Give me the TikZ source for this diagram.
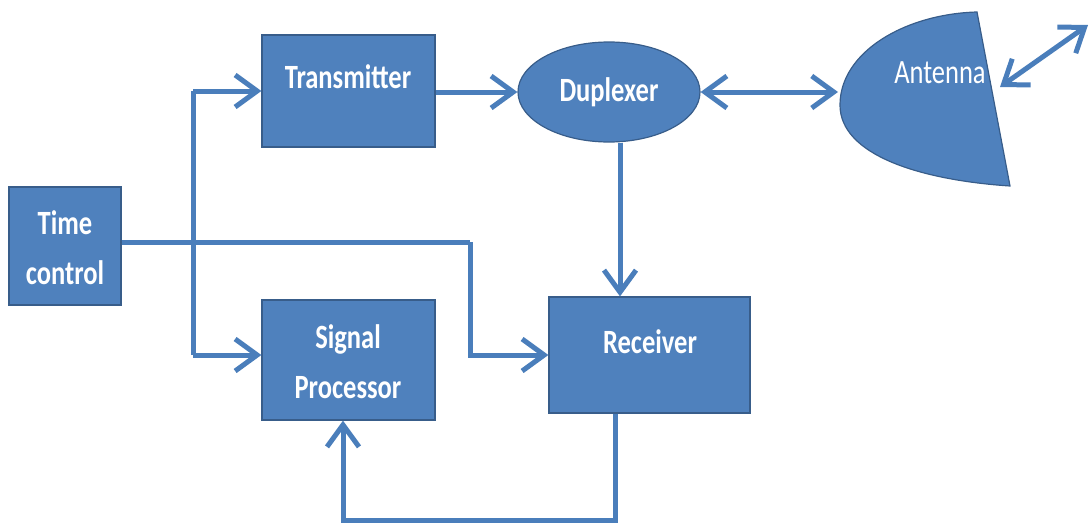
\documentclass[tikz,border=0pt]{standalone}
\usepackage{fontspec}
\usetikzlibrary{arrows.meta,shapes.geometric}
\newfontfamily\lblfont[FakeStretch=0.78]{Carlito}
\definecolor{blockfill}{HTML}{4F81BD}
\definecolor{blockedge}{HTML}{385D8A}
\definecolor{wire}{HTML}{4A7EBB}
\tikzset{
  block/.style={draw=blockedge, fill=blockfill, line width=1.2pt, inner sep=0pt},
  lbl/.style={text=white, font=\lblfont\bfseries\fontsize{34}{50}\selectfont, align=center, inner sep=0pt},
  conn/.style={draw=wire, line width=5pt, line join=miter,
    arrows={-Straight Barb[length=22pt,width=32pt]}},
  biconn/.style={conn, arrows={Straight Barb[length=22pt,width=32pt]-Straight Barb[length=22pt,width=32pt]}}
}
\begin{document}
\begin{tikzpicture}[x=1pt,y=-1pt]
\useasboundingbox (0,0) rectangle (1090,525);

% blocks
\node[block, minimum width=112pt, minimum height=118pt] (tc) at (65,246) {};
\node[block, minimum width=173pt, minimum height=112pt] (tx) at (348.5,91) {};
\node[block, minimum width=173pt, minimum height=120pt] (sp) at (348.5,360) {};
\node[block, minimum width=201pt, minimum height=116pt] (rx) at (649.5,355) {};
\node[block, ellipse, minimum width=182pt, minimum height=100pt] (dup) at (609,92) {};

% antenna dish
\path[block] (977,12) -- (1010,186)
  .. controls (920,180) and (840,155) .. (840,105)
  .. controls (840,52) and (905,14) .. (977,12) -- cycle;
\coordinate (antL) at (838,92);
\coordinate (antR) at (1000,87);
\coordinate (sky) at (1088,25);

% labels
\node[lbl] (tcT) at (65,248) {Time\\control};
\node[lbl] (txT) at (348,77) {Transmitter};
\node[lbl] (spT) at (348,362) {Signal\\Processor};
\node[lbl] (rxT) at (650,342) {Receiver};
\node[lbl] (dupT) at (609,92) {Duplexer};
\node[lbl, font=\lblfont\fontsize{34}{50}\selectfont] (antT) at (940,73) {Antenna};

% timing distribution
\coordinate (split) at (193,242);
\coordinate (bend) at (470,242);
\draw[conn, arrows=-] (tc.east |- split) -- (bend);
\draw[conn] (bend) |- (rx.west);
\draw[conn] (split |- tx.west) -- (tx.west);
\draw[conn, arrows=-] (split |- tx.west) -- (split |- 0,355);
\draw[conn] (split |- 0,355) -- (sp.west |- 0,355);

% signal path
\draw[conn] (tx.east |- dup.west) -- (dup.west);
\draw[biconn] (dup.east) -- (dup.east -| antL);
\draw[biconn] (antR) -- (sky);
\draw[conn] ([xshift=11pt]dup.south) -- ([xshift=11pt]dup.south |- rx.north);
\draw[conn] ([xshift=-34.5pt]rx.south) -- ++(0,107) -| ([xshift=-5.5pt]sp.south);
\end{tikzpicture}
\end{document}
